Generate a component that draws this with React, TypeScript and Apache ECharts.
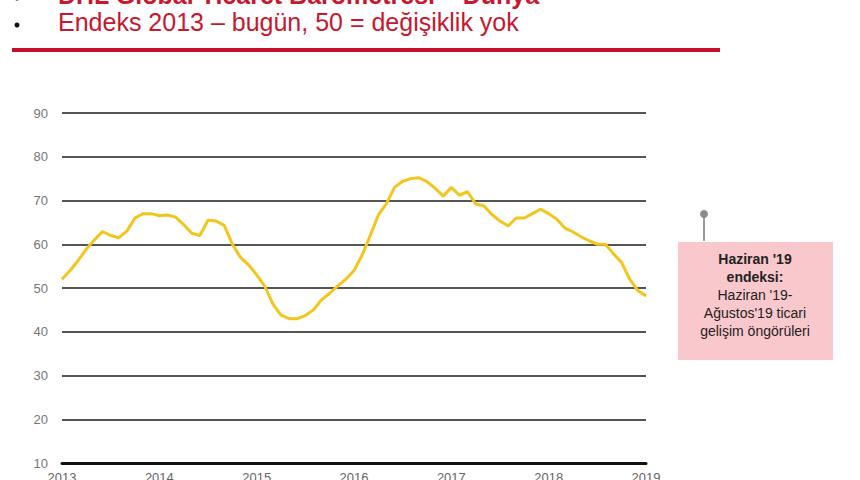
import React, { useEffect, useRef } from "react";
import * as echarts from "echarts";

const years = ["2013", "2014", "2015", "2016", "2017", "2018", "2019"];
// Monthly index values, Jan 2013 .. Jan 2019 (73 points)
const indexValues = [
  52, 54, 56.3, 58.9, 61, 62.9, 62, 61.5, 63, 66, 67, 67,
  66.5, 66.7, 66.2, 64.5, 62.5, 62, 65.5, 65.3, 64.3, 60, 57, 55.3,
  53, 50.4, 46.3, 43.8, 43, 43, 43.7, 45, 47.3, 48.8, 50.5, 52,
  54, 57.5, 62, 66.7, 69.3, 73, 74.4, 75, 75.2, 74.3, 72.8, 71,
  73, 71.2, 72, 69.2, 68.8, 66.8, 65.3, 64.2, 66, 66, 67, 68,
  67, 65.7, 63.7, 62.8, 61.7, 60.8, 60, 60, 57.8, 55.8, 52, 49.4,
  48.2,
];
const yTicks = { min: 10, max: 90, interval: 10 };
const titleLine1 = "DHL Global Ticaret Barometresi – Dünya";
const titleLine2 = "Endeks 2013 – bugün, 50 = değişiklik yok";
const noteLines = [
  { text: "Haziran '19", bold: true },
  { text: "endeksi:", bold: true },
  { text: "Haziran '19-", bold: false },
  { text: "Ağustos'19 ticari", bold: false },
  { text: "gelişim öngörüleri", bold: false },
];

const months: string[] = [];
for (let i = 0; i < indexValues.length; i++) {
  const y = Number(years[0]) + Math.floor(i / 12);
  const m = (i % 12) + 1;
  months.push(`${y}-${m < 10 ? "0" + m : m}`);
}

export default function App() {
  const ref = useRef<HTMLDivElement>(null);
  useEffect(() => {
    if (!ref.current) return;
    const chart = echarts.init(ref.current, null, { renderer: "svg" });
    const red = "#c8172f";
    const font = "Liberation Sans, Arial, sans-serif";
    const graphics: any[] = [
      { type: "circle", shape: { cx: 17, cy: -2, r: 2.5 }, style: { fill: "#111" } },
      {
        type: "text",
        x: 58,
        y: 7,
        style: {
          text: titleLine1,
          fill: red,
          font: `bold 25px ${font}`,
          textVerticalAlign: "bottom",
        },
      },
      { type: "circle", shape: { cx: 17, cy: 25, r: 2.5 }, style: { fill: "#111" } },
      {
        type: "text",
        x: 58,
        y: 34,
        style: {
          text: titleLine2,
          fill: red,
          font: `25px ${font}`,
          textVerticalAlign: "bottom",
        },
      },
      { type: "rect", shape: { x: 12, y: 48, width: 708, height: 4 }, style: { fill: "#c8102e" } },
      { type: "line", shape: { x1: 704, y1: 216, x2: 704, y2: 241 }, style: { stroke: "#9a9a9a", lineWidth: 2 } },
      { type: "circle", shape: { cx: 704, cy: 214, r: 4 }, style: { fill: "#8c8c8c" } },
      { type: "rect", shape: { x: 678, y: 242, width: 155, height: 118 }, style: { fill: "#f9c8cc" } },
    ];
    noteLines.forEach((ln, i) => {
      graphics.push({
        type: "text",
        x: 755,
        y: 259 + i * 18,
        style: {
          text: ln.text,
          fill: "#222",
          font: `${ln.bold ? "bold " : ""}14px ${font}`,
          textAlign: "center",
          textVerticalAlign: "middle",
        },
      });
    });
    chart.setOption({
      animation: false,
      grid: { left: 62, right: 214, top: 113, bottom: 17, containLabel: false, outerBoundsMode: "none" },
      xAxis: {
        type: "category",
        data: months,
        boundaryGap: false,
        axisLine: { show: true, lineStyle: { color: "#111", width: 3 } },
        axisTick: { show: false },
        axisLabel: {
          interval: 11,
          color: "#666",
          fontSize: 13,
          fontFamily: font,
          margin: 8,
          formatter: (v: string) => v.slice(0, 4),
        },
        splitLine: { show: false },
      },
      yAxis: {
        type: "value",
        min: yTicks.min,
        max: yTicks.max,
        interval: yTicks.interval,
        axisLine: { show: false },
        axisTick: { show: false },
        axisLabel: { color: "#777", fontSize: 13, fontFamily: font, margin: 14 },
        splitLine: { show: true, lineStyle: { color: "#555", width: 2 } },
      },
      series: [
        {
          type: "line",
          data: indexValues,
          symbol: "none",
          smooth: false,
          lineStyle: { color: "#f4c51c", width: 3 },
          z: 3,
        },
      ],
      graphic: graphics,
    });
    return () => chart.dispose();
  }, []);
  return <div ref={ref} style={{ width: 860, height: 480, position: "absolute", left: 0, top: 0 }} />;
}
